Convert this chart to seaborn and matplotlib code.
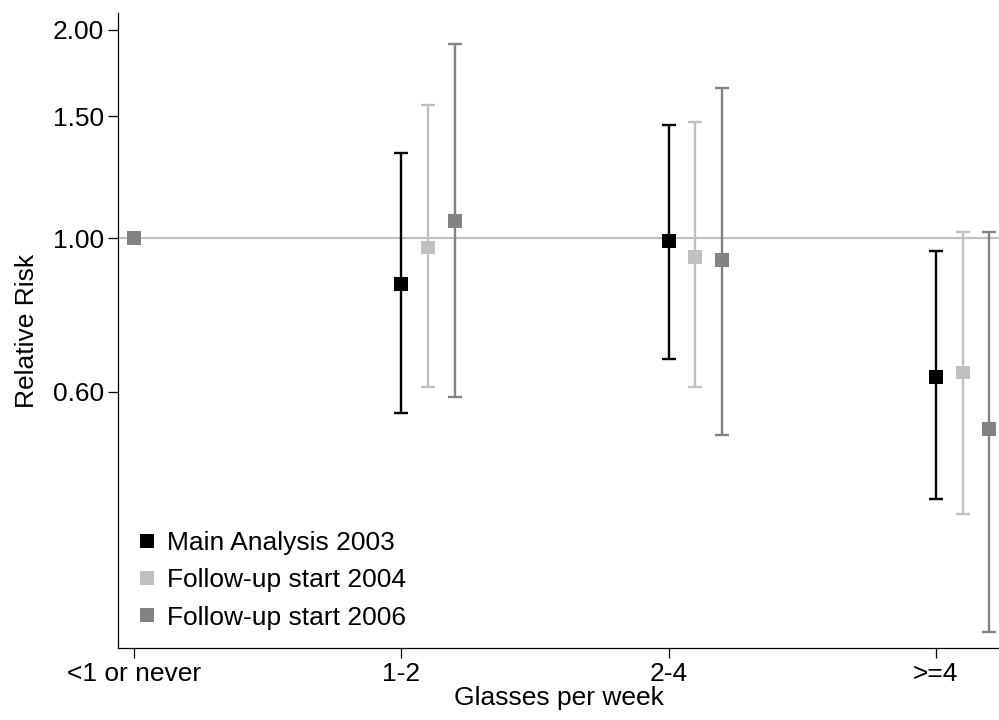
import numpy as np
import pandas as pd
import matplotlib
matplotlib.use("Agg")
import matplotlib.pyplot as plt
import seaborn as sns
from matplotlib.ticker import FixedLocator, FixedFormatter, NullLocator

# ---- data ----
categories = ["<1 or never", "1-2", "2-4", ">=4"]
series = ["Main Analysis 2003", "Follow-up start 2004", "Follow-up start 2006"]
colors = ["#000000", "#c0c0c0", "#828282"]

rr_main = [1.00, 0.86, 0.99, 0.63]
lo_main = [1.00, 0.56, 0.67, 0.42]
hi_main = [1.00, 1.33, 1.46, 0.96]

rr_2004 = [1.00, 0.97, 0.94, 0.64]
lo_2004 = [1.00, 0.61, 0.61, 0.40]
hi_2004 = [1.00, 1.56, 1.47, 1.02]

rr_2006 = [1.00, 1.06, 0.93, 0.53]
lo_2006 = [1.00, 0.59, 0.52, 0.27]
hi_2006 = [1.00, 1.91, 1.65, 1.02]

yticks = [0.60, 1.00, 1.50, 2.00]
ytick_labels = ["0.60", "1.00", "1.50", "2.00"]

# ---- tidy table ----
rows = []
for s_i, (name, rr, lo, hi) in enumerate(zip(
        series,
        [rr_main, rr_2004, rr_2006],
        [lo_main, lo_2004, lo_2006],
        [hi_main, hi_2004, hi_2006])):
    for c_i, cat in enumerate(categories):
        dodge = 0.0 if c_i == 0 else 0.1 * s_i
        rows.append(dict(series=name, category=cat, pos=c_i + dodge,
                         rr=rr[c_i], lo=lo[c_i], hi=hi[c_i]))
df = pd.DataFrame(rows)

sns.set_theme(style="white")
plt.rcParams["font.family"] = ["Liberation Sans", "DejaVu Sans"]
plt.rcParams["text.color"] = "black"
FS = 19

fig = plt.figure(figsize=(9.99, 7.2), dpi=100)
ax = fig.add_axes([0.118, 0.1, 0.882, 0.882])

ax.set_yscale("log")
ax.axhline(1.0, color="#c0c0c0", lw=1.6, zorder=0)

for name, col in zip(series, colors):
    sub = df[(df["series"] == name) & (df["hi"] > df["lo"])]
    ax.errorbar(sub["pos"], sub["rr"],
                yerr=[sub["rr"] - sub["lo"], sub["hi"] - sub["rr"]],
                fmt="none", ecolor=col, elinewidth=1.7, capsize=5,
                capthick=1.7, zorder=2)

sns.scatterplot(data=df, x="pos", y="rr", hue="series", hue_order=series,
                palette=colors, marker="s", s=100, linewidth=0,
                ax=ax, zorder=3, legend=True)

ax.set_xlim(-0.06, 3.236)
ax.set_ylim(0.256, 2.116)
ax.yaxis.set_major_locator(FixedLocator(yticks))
ax.yaxis.set_major_formatter(FixedFormatter(ytick_labels))
ax.yaxis.set_minor_locator(NullLocator())
ax.set_xticks(range(len(categories)))
ax.set_xticklabels(categories)

for side in ["top", "right"]:
    ax.spines[side].set_visible(False)
for side in ["left", "bottom"]:
    ax.spines[side].set_color("black")
    ax.spines[side].set_linewidth(0.9)

ax.tick_params(axis="both", which="major", direction="out", length=7,
               width=0.9, color="black", labelsize=FS, labelcolor="black",
               left=True, bottom=True, pad=3)
ax.set_xlabel("Glasses per week", fontsize=FS, color="black", labelpad=0)
ax.set_ylabel("Relative Risk", fontsize=FS, color="black", labelpad=10)

handles, labels = ax.get_legend_handles_labels()
leg = ax.legend(handles, labels, loc="lower left", bbox_to_anchor=(0.0, 0.0),
                frameon=False, fontsize=FS, handlelength=0.8,
                handletextpad=0.35, labelspacing=0.5, borderaxespad=0.3,
                markerscale=1.0)
for t in leg.get_texts():
    t.set_color("black")

fig.savefig("out.png", dpi=100)
